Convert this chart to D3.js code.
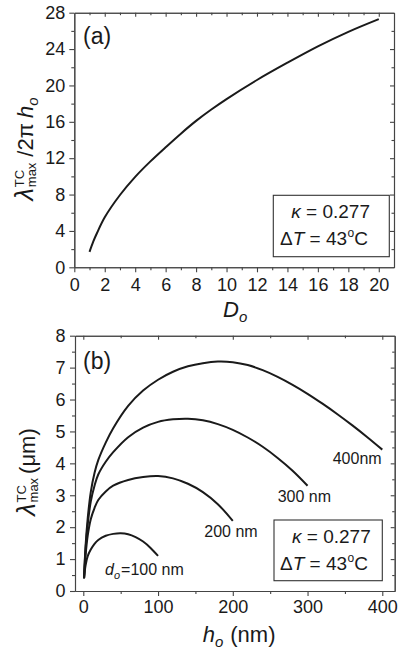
<!DOCTYPE html>
<html>
<head>
<meta charset="utf-8">
<script src="https://cdnjs.cloudflare.com/ajax/libs/d3/7.8.5/d3.min.js"></script>
<style>
body { margin: 0; background: #fff; }
svg { display: block; font-family: "Liberation Sans", Arial, sans-serif; }
.axis path, .axis line { stroke: #444; stroke-width: 1.1; }
.axis text { font-family: "Liberation Sans", Arial, sans-serif; font-size: 18px; fill: #1a1a1a; }
.curve { fill: none; stroke: #1a1a1a; stroke-width: 2; }
.rt { white-space: pre; }
</style>
</head>
<body>
<div id="chart"></div>
<script>
// panel (a): lambda_max / 2 pi h_o against D_o
var aD     = [1, 1.25, 1.5, 2, 3, 4, 5, 6, 7, 8, 9, 10, 12, 14, 16, 18, 20];
var aRatio = [1.7, 2.85, 3.8, 5.5, 7.95, 9.95, 11.65, 13.2, 14.7, 16.1, 17.35, 18.5, 20.6, 22.5, 24.3, 25.9, 27.3];
var aXTicks = [0, 2, 4, 6, 8, 10, 12, 14, 16, 18, 20];
var aYTicks = [0, 4, 8, 12, 16, 20, 24, 28];

// panel (b): lambda_max (um) against h_o (nm), one curve per d_o
var b100h = [1, 3, 6, 10, 15, 20, 30, 40, 50, 60, 70, 80, 90, 100];
var b100v = [0.4, 0.8, 1.1, 1.3, 1.48, 1.6, 1.73, 1.79, 1.81, 1.78, 1.69, 1.55, 1.35, 1.1];
var b200h = [1, 3, 6, 10, 15, 20, 30, 40, 60, 80, 100, 120, 140, 160, 180, 200];
var b200v = [0.4, 1.1, 1.75, 2.25, 2.6, 2.85, 3.12, 3.3, 3.48, 3.57, 3.6, 3.53, 3.36, 3.1, 2.72, 2.2];
var b300h = [1, 3, 6, 10, 15, 20, 30, 40, 60, 80, 100, 120, 140, 160, 180, 200, 220, 240, 260, 280, 300];
var b300v = [0.4, 1.3, 2.1, 2.8, 3.3, 3.65, 4.05, 4.35, 4.82, 5.12, 5.3, 5.38, 5.4, 5.35, 5.23, 5.05, 4.81, 4.52, 4.17, 3.77, 3.3];
var b400h = [1, 3, 6, 10, 15, 20, 30, 40, 60, 80, 100, 120, 140, 160, 180, 200, 220, 240, 260, 280, 300, 320, 340, 360, 380, 400];
var b400v = [0.4, 1.4, 2.3, 3.1, 3.7, 4.1, 4.65, 5.1, 5.8, 6.28, 6.62, 6.87, 7.04, 7.14, 7.19, 7.17, 7.08, 6.92, 6.71, 6.46, 6.18, 5.87, 5.54, 5.19, 4.82, 4.43];
var bXTicks = [0, 100, 200, 300, 400];
var bYTicks = [0, 1, 2, 3, 4, 5, 6, 7, 8];

var svg = d3.select("#chart")
    .append("svg")
    .attr("width", 409)
    .attr("height", 649);

function zip(xs, ys) {
    return xs.map(function(d, i) { return [d, ys[i]]; });
}

function axisG(tr) {
    return svg.append("g").attr("class", "axis").attr("transform", tr);
}

// box with outward ticks left/bottom and inward ticks top/right
function drawFrame(x, y, o) {
    var x0 = x.range()[0], x1 = x.range()[1];
    var y0 = y.range()[0], y1 = y.range()[1];

    axisG("translate(0," + y0 + ")")
        .call(d3.axisBottom(x).tickValues(o.xMajor).tickSizeInner(5).tickSizeOuter(0).tickPadding(o.xPad));
    axisG("translate(0," + y0 + ")")
        .call(d3.axisBottom(x).tickValues(o.xMinor).tickSizeInner(3).tickSizeOuter(0).tickFormat(""));
    axisG("translate(" + x0 + ",0)")
        .call(d3.axisLeft(y).tickValues(o.yMajor).tickSizeInner(5).tickSizeOuter(0).tickPadding(o.yPad));
    axisG("translate(" + x0 + ",0)")
        .call(d3.axisLeft(y).tickValues(o.yMinor).tickSizeInner(3).tickSizeOuter(0).tickFormat(""));

    axisG("translate(0," + y1 + ")")
        .call(d3.axisTop(x).tickValues(o.topMajor).tickSizeInner(-4).tickSizeOuter(0).tickFormat(""));
    axisG("translate(0," + y1 + ")")
        .call(d3.axisTop(x).tickValues(o.topMinor).tickSizeInner(-2.5).tickSizeOuter(0).tickFormat(""));
    axisG("translate(" + x1 + ",0)")
        .call(d3.axisRight(y).tickValues(o.rightMajor).tickSizeInner(-4).tickSizeOuter(0).tickFormat(""));
    axisG("translate(" + x1 + ",0)")
        .call(d3.axisRight(y).tickValues(o.rightMinor).tickSizeInner(-2.5).tickSizeOuter(0).tickFormat(""));
}

// text made of pieces (italic, sub/superscripts), laid out by measuring
function richText(px, py, anchor, rot, parts) {
    var g = svg.append("g")
        .attr("transform", "translate(" + px + "," + py + ")" + (rot ? " rotate(-90)" : ""));
    var pos = 0, prevStart = 0, prevW = 0;
    var items = [];
    parts.forEach(function(p) {
        var s = g.append("text")
            .attr("class", "rt")
            .text(p.t)
            .attr("font-size", p.size)
            .attr("font-style", p.it ? "italic" : "normal")
            .attr("y", p.dy || 0)
            .attr("fill", "#1a1a1a");
        var w = s.node().getComputedTextLength();
        var start;
        if (p.stack) {
            start = prevStart;
            pos = Math.max(prevStart + prevW, start + w);
        } else {
            start = pos + (p.gap || 0);
            pos = start + w;
        }
        s.attr("x", start);
        prevStart = start;
        prevW = w;
        items.push(s);
    });
    var shift = anchor === "middle" ? -pos / 2 : (anchor === "end" ? -pos : 0);
    items.forEach(function(s) { s.attr("x", +s.attr("x") + shift); });
}

function legendBox(x0, y0, x1, y1, rightX, startX, base1, base2) {
    svg.append("rect")
        .attr("x", x0).attr("y", y0)
        .attr("width", x1 - x0).attr("height", y1 - y0)
        .attr("fill", "none").attr("stroke", "#333").attr("stroke-width", 1.1);
    richText(rightX, base1, "end", false, [
        {t: "\u03ba", size: 19, it: true},
        {t: " = 0.277", size: 19}
    ]);
    richText(startX, base2, "start", false, [
        {t: "\u0394", size: 19},
        {t: "T", size: 19, it: true},
        {t: " = 43", size: 19},
        {t: "o", size: 12, dy: -8, gap: 0.5},
        {t: "C", size: 19}
    ]);
}

var line = d3.line().curve(d3.curveCatmullRom.alpha(0.5));

// ---------- panel (a)
var xA = d3.scaleLinear().domain([0, 21]).range([74.3, 394]);
var yA = d3.scaleLinear().domain([0, 28]).range([267.3, 12.7]);

drawFrame(xA, yA, {
    xMajor: aXTicks, xMinor: d3.range(1, 21, 2), xPad: 6,
    yMajor: aYTicks, yMinor: d3.range(2, 28, 4), yPad: 4,
    topMajor: d3.range(2, 21, 2), topMinor: d3.range(1, 21, 2),
    rightMajor: d3.range(4, 28, 4), rightMinor: d3.range(2, 28, 4)
});

line.x(function(d) { return xA(d[0]); }).y(function(d) { return yA(d[1]); });
svg.append("path")
    .datum(zip(aD, aRatio))
    .attr("class", "curve")
    .attr("d", line);

svg.append("text").attr("x", 83).attr("y", 43.5)
    .attr("font-size", 23).attr("fill", "#1a1a1a").text("(a)");

richText(223, 316.7, "start", false, [
    {t: "D", size: 22, it: true},
    {t: "o", size: 15, it: true, dy: 5}
]);

richText(33, 149, "middle", true, [
    {t: "\u03bb", size: 25, it: true},
    {t: "TC", size: 13, dy: -9, gap: 1},
    {t: "max", size: 13, dy: 3, stack: true},
    {t: "/2\u03c0", size: 22, gap: 6},
    {t: "h", size: 22, it: true, gap: 5},
    {t: "o", size: 15, it: true, dy: 5}
]);

legendBox(273.3, 195.3, 389.3, 256.7, 370, 280, 218.3, 245);

// ---------- panel (b)
var xB = d3.scaleLinear().domain([-11.1, 416.6]).range([75, 394.7]);
var yB = d3.scaleLinear().domain([0, 8]).range([591, 335.7]);

drawFrame(xB, yB, {
    xMajor: bXTicks, xMinor: [50, 150, 250, 350], xPad: 4,
    yMajor: bYTicks, yMinor: d3.range(0.5, 8, 1), yPad: 4.5,
    topMajor: bXTicks, topMinor: [50, 150, 250, 350],
    rightMajor: d3.range(1, 8, 1), rightMinor: d3.range(0.5, 8, 1)
});

line.x(function(d) { return xB(d[0]); }).y(function(d) { return yB(d[1]); });
[[b100h, b100v], [b200h, b200v], [b300h, b300v], [b400h, b400v]].forEach(function(s) {
    svg.append("path")
        .datum(zip(s[0], s[1]))
        .attr("class", "curve")
        .attr("d", line);
});

svg.append("text").attr("x", 83).attr("y", 368.5)
    .attr("font-size", 23).attr("fill", "#1a1a1a").text("(b)");

richText(202.7, 641.5, "start", false, [
    {t: "h", size: 22, it: true},
    {t: "o", size: 15, it: true, dy: 5},
    {t: "(nm)", size: 22, gap: 7}
]);

richText(35, 472, "middle", true, [
    {t: "\u03bb", size: 25, it: true},
    {t: "TC", size: 13, dy: -9, gap: 1},
    {t: "max", size: 13, dy: 3, stack: true},
    {t: "(\u03bcm)", size: 22, gap: 4}
]);

richText(332.7, 464, "start", false, [{t: "400nm", size: 16}]);
richText(277.7, 501.7, "start", false, [{t: "300 nm", size: 16}]);
richText(204.3, 537.3, "start", false, [{t: "200 nm", size: 16}]);
richText(105, 575, "start", false, [
    {t: "d", size: 16, it: true},
    {t: "o", size: 11, it: true, dy: 4},
    {t: "=100 nm", size: 16, gap: 1}
]);

legendBox(274, 520, 382.3, 580.7, 370.7, 280, 543.3, 570);
</script>
</body>
</html>
